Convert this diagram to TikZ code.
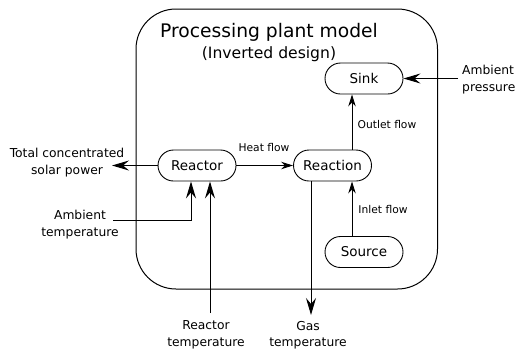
\documentclass[tikz,border=0pt]{standalone}
\usepackage{fontspec}
\setmainfont{DejaVu Sans}
\usetikzlibrary{arrows.meta}
\begin{document}
\begin{tikzpicture}[x=1pt,y=-1pt,
 block/.style={draw, line width=0.9pt, rounded corners=15.5pt, minimum width=78pt, minimum height=31pt, inner sep=0pt, font=\fontsize{13.5}{15}\selectfont},
 lbl/.style={font=\fontsize{12.3}{16.5}\selectfont, align=center, inner sep=0pt},
 flowlbl/.style={font=\fontsize{10.7}{12}\selectfont, inner sep=0pt},
 bigarrow/.style={-{Stealth[length=17pt,width=10pt,inset=6pt]}, line width=1pt},
 smallarrow/.style={-{Stealth[length=12pt,width=7.5pt,inset=4pt]}, line width=0.9pt}]
\useasboundingbox (0,0) rectangle (516,349);
\draw[line width=1pt, rounded corners=40pt] (136,9) rectangle (437.5,289);
\node[font=\fontsize{18.7}{20}\selectfont, inner sep=0pt] (title) at (269,32) {Processing plant model};
\node[font=\fontsize{15.6}{18}\selectfont, inner sep=0pt] (subtitle) at (269,54) {(Inverted design)};
% blocks
\node[block] (sink) at (364,78.5) {Sink};
\node[block] (reactor) at (197,165.5) {Reactor};
\node[block] (reaction) at (332.5,165.5) {Reaction};
\node[block] (source) at (364,252) {Source};
% labels
\node[lbl] (solar) at (67,162.5) {Total concentrated\\solar power};
\node[lbl] (ambtemp) at (80,224.5) {Ambient\\temperature};
\node[lbl] (reactemp) at (206,335) {Reactor\\temperature};
\node[lbl] (gastemp) at (308,335) {Gas\\temperature};
\node[lbl, anchor=west, align=left] (amppress) at (462,79.5) {Ambient\\pressure};
\node[flowlbl] (heatlbl) at (264,148) {Heat flow};
\node[flowlbl] (outletlbl) at (387,125) {Outlet flow};
\node[flowlbl] (inletlbl) at (383,210) {Inlet flow};
% free ends
\coordinate (solarend) at (112,165.5);
\coordinate (ambstart) at (113,220);
\coordinate (rtstart) at (210,313);
\coordinate (gasend) at (311,315);
\coordinate (pressstart) at (458,78.5);
\coordinate (flowx) at (352,0);
% connectors
\draw[bigarrow] (reactor.west) -- (solarend);
\draw[bigarrow] (ambstart) -| ([xshift=-6pt]reactor.south);
\draw[bigarrow] (rtstart) -- (rtstart |- reactor.south);
\draw[bigarrow] (reaction.south -| gasend) -- (gasend);
\draw[bigarrow] (pressstart) -- (sink.east);
\draw[smallarrow] (reactor.east) -- (reaction.west);
\draw[smallarrow] (source.north -| flowx) -- (reaction.south -| flowx);
\draw[smallarrow] (reaction.north -| flowx) -- (sink.south -| flowx);
\end{tikzpicture}
\end{document}
